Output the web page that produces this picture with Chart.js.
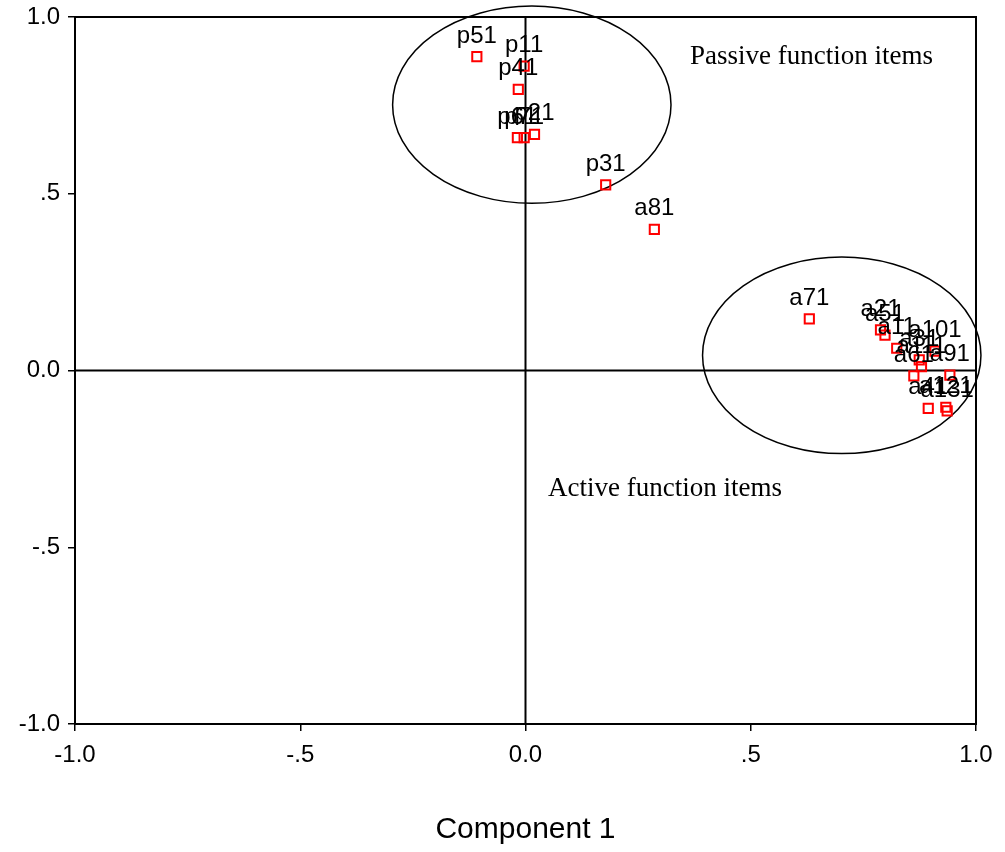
<!DOCTYPE html>
<html>
<head>
<meta charset="utf-8">
<script src="https://cdn.jsdelivr.net/npm/chart.js@4.4.0/dist/chart.umd.min.js"></script>
<style>
body { margin: 0; background: #fff; }
#wrap { width: 1005px; height: 852px; }
</style>
</head>
<body>
<div id="wrap"><canvas id="myChart"></canvas></div>
<script>
// loadings
let itemNames = ['p11', 'p21', 'p31', 'p41', 'p51', 'p61', 'p71',
                 'a11', 'a21', 'a31', 'a41', 'a51', 'a61', 'a71', 'a81', 'a91', 'a101', 'a111', 'a121', 'a131'];
let comp1 = [-0.003, 0.020, 0.178, -0.016, -0.108, -0.018, -0.003,
             0.824, 0.788, 0.874, 0.894, 0.798, 0.862, 0.630, 0.286, 0.942, 0.909, 0.879, 0.933, 0.936];
let comp2 = [0.861, 0.668, 0.525, 0.795, 0.888, 0.659, 0.659,
             0.063, 0.115, 0.030, -0.107, 0.100, -0.015, 0.146, 0.399, -0.013, 0.055, 0.011, -0.104, -0.114];

let tickValues = [-1, -0.5, 0, 0.5, 1];
let tickLabels = ['-1.0', '-.5', '0.0', '.5', '1.0'];
let axisTitle = 'Component 1';

// the two groups (ellipse + caption), in data units
let groupNames = ['Passive function items', 'Active function items'];
let groupCenterX = [0.014, 0.702];
let groupCenterY = [0.752, 0.043];
let groupRadiusX = [0.309, 0.309];
let groupRadiusY = [0.279, 0.278];
let groupLabelX = [0.365, 0.050];
let groupLabelY = [0.887, -0.335];

let sansFont = "Arial, 'Liberation Sans', sans-serif";
let serifFont = "'Times New Roman', 'Liberation Serif', serif";

let points = [];
for (let i = 0; i < itemNames.length; i++) {
    points.push({x: comp1[i], y: comp2[i]});
}

function tickText(value) {
    let i = tickValues.indexOf(value);
    return i >= 0 ? tickLabels[i] : '';
}

// frame, zero lines and ellipses, under the points
let backPlugin = {
    id: 'backPlugin',
    beforeDatasetsDraw(chart) {
        let ctx = chart.ctx;
        let a = chart.chartArea;
        let sx = chart.scales.x;
        let sy = chart.scales.y;
        ctx.save();
        ctx.strokeStyle = '#000';
        ctx.lineWidth = 2;
        ctx.strokeRect(a.left, a.top, a.right - a.left, a.bottom - a.top);
        ctx.beginPath();
        ctx.moveTo(sx.getPixelForValue(0), a.top);
        ctx.lineTo(sx.getPixelForValue(0), a.bottom);
        ctx.moveTo(a.left, sy.getPixelForValue(0));
        ctx.lineTo(a.right, sy.getPixelForValue(0));
        ctx.stroke();
        ctx.lineWidth = 1.5;
        for (let g = 0; g < groupNames.length; g++) {
            let cx = sx.getPixelForValue(groupCenterX[g]);
            let cy = sy.getPixelForValue(groupCenterY[g]);
            let rx = sx.getPixelForValue(groupCenterX[g] + groupRadiusX[g]) - cx;
            let ry = cy - sy.getPixelForValue(groupCenterY[g] + groupRadiusY[g]);
            ctx.beginPath();
            ctx.ellipse(cx, cy, rx, ry, 0, 0, Math.PI * 2);
            ctx.stroke();
        }
        ctx.restore();
    },
    afterDatasetsDraw(chart) {
        let ctx = chart.ctx;
        let sx = chart.scales.x;
        let sy = chart.scales.y;
        let meta = chart.getDatasetMeta(0);
        ctx.save();
        ctx.fillStyle = '#000';
        // item labels above each square
        ctx.font = '24px ' + sansFont;
        ctx.textAlign = 'center';
        ctx.textBaseline = 'alphabetic';
        meta.data.forEach((pt, i) => {
            ctx.fillText(itemNames[i], pt.x, pt.y - 14);
        });
        // group captions
        ctx.font = '27px ' + serifFont;
        ctx.textAlign = 'left';
        ctx.textBaseline = 'middle';
        for (let g = 0; g < groupNames.length; g++) {
            ctx.fillText(groupNames[g], sx.getPixelForValue(groupLabelX[g]), sy.getPixelForValue(groupLabelY[g]));
        }
        ctx.restore();
    }
};

let chart = new Chart('myChart', {
    type: 'scatter',
    data: {
        datasets: [{
            data: points,
            pointStyle: 'rect',
            pointRadius: 6.5,
            pointHoverRadius: 6.5,
            borderColor: '#ff0000',
            backgroundColor: 'rgba(0,0,0,0)',
            borderWidth: 2
        }]
    },
    options: {
        responsive: true,
        maintainAspectRatio: false,
        animation: false,
        layout: { padding: { top: 14, right: 29, left: 0, bottom: 0 } },
        plugins: {
            legend: { display: false },
            tooltip: { enabled: false }
        },
        scales: {
            x: {
                type: 'linear',
                min: -1,
                max: 1,
                afterFit: (scale) => { scale.height = 128; },
                border: { display: false },
                grid: { display: true, drawOnChartArea: false, tickLength: 7, color: '#000', lineWidth: 1.5 },
                ticks: {
                    stepSize: 0.5,
                    padding: 10,
                    color: '#000',
                    font: { family: sansFont, size: 24 },
                    maxRotation: 0,
                    callback: tickText
                },
                title: {
                    display: true,
                    text: axisTitle,
                    color: '#000',
                    font: { family: sansFont, size: 30 },
                    padding: { top: 4, bottom: 4 }
                }
            },
            y: {
                type: 'linear',
                min: -1,
                max: 1,
                afterFit: (scale) => { scale.width = 75; },
                border: { display: false },
                grid: { display: true, drawOnChartArea: false, tickLength: 7, color: '#000', lineWidth: 1.5 },
                ticks: {
                    stepSize: 0.5,
                    padding: 8,
                    color: '#000',
                    font: { family: sansFont, size: 24, lineHeight: 0.75 },
                    callback: tickText
                }
            }
        }
    },
    plugins: [backPlugin]
});
</script>
</body>
</html>
